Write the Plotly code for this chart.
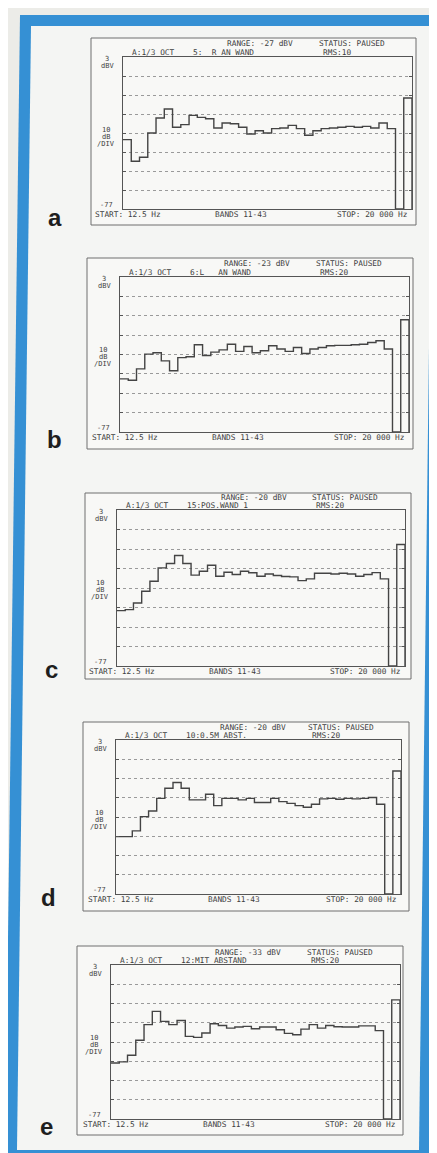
import plotly.graph_objects as go

# ---------------- data ----------------
panel_letters = ["a", "b", "c", "d", "e"]
range_labels = ["RANGE: -27 dBV", "RANGE: -23 dBV", "RANGE: -20 dBV", "RANGE: -20 dBV", "RANGE: -33 dBV"]
header_labels = [
    "A:1/3 OCT    5:  R AN WAND",
    "A:1/3 OCT    6:L   AN WAND",
    "A:1/3 OCT    15:POS.WAND 1",
    "A:1/3 OCT    10:0.5M ABST.",
    "A:1/3 OCT    12:MIT ABSTAND",
]
rms_labels = ["RMS:10", "RMS:20", "RMS:20", "RMS:20", "RMS:20"]

bands_a = [-40.5, -51.9, -49.8, -37.0, -29.1, -24.4, -34.0, -32.6, -27.7, -28.8, -29.5,
           -34.4, -31.7, -32.1, -34.0, -37.5, -35.8, -37.0, -34.7, -34.4, -33.0, -34.7,
           -38.2, -35.8, -34.7, -34.4, -34.0, -33.5, -34.0, -33.5, -34.4, -31.7, -34.7]
bands_b = [-49.6, -50.3, -44.4, -36.8, -36.1, -40.3, -45.4, -38.6, -38.2, -32.0, -37.5,
           -35.8, -34.6, -31.7, -35.4, -32.9, -36.1, -35.1, -32.5, -34.2, -35.4, -33.4,
           -36.5, -34.2, -33.4, -32.5, -32.3, -32.3, -32.0, -31.7, -30.8, -29.9, -34.2]
bands_c = [-48.6, -48.1, -44.7, -38.7, -33.5, -26.7, -24.4, -20.3, -24.4, -30.4, -28.4,
           -25.3, -31.0, -28.9, -30.1, -28.4, -29.2, -31.0, -29.8, -30.6, -31.1, -31.3,
           -33.2, -32.3, -29.4, -29.4, -29.8, -29.4, -29.8, -31.0, -30.1, -29.1, -32.3]
bands_d = [-47.2, -47.2, -44.2, -36.8, -33.9, -27.3, -22.1, -19.1, -22.1, -28.1, -28.1,
           -25.2, -31.1, -27.3, -27.3, -28.1, -27.3, -29.5, -29.5, -27.3, -29.0, -29.9,
           -31.1, -31.9, -30.4, -27.6, -27.3, -27.8, -27.3, -27.6, -27.3, -26.9, -30.4]
bands_e = [-47.9, -47.3, -43.9, -36.1, -28.0, -21.1, -26.3, -28.0, -25.8, -34.1, -34.6,
           -32.3, -27.5, -28.4, -29.8, -29.2, -28.9, -30.1, -29.2, -29.2, -30.6, -32.5,
           -33.2, -30.3, -28.0, -29.8, -28.4, -29.1, -29.2, -29.2, -28.6, -28.6, -31.1]
overall_levels = [-18.6, -19.1, -14.7, -13.1, -15.1]
band_series = [bands_a, bands_b, bands_c, bands_d, bands_e]

y_top, y_bottom = 3, -77
grid_levels = [-67, -57, -47, -37, -27, -17, -7]

# ---------------- geometry (pixels) ----------------
W, H = 437, 1153
def px(x): return x / W
def py(y): return 1 - y / H

outer_boxes = [(83, 30, 408, 217), (79, 250, 405, 441), (77, 485, 403, 671),
               (75, 714, 401, 903), (69, 938, 395, 1127)]
inner_boxes = [(115, 49, 404, 201), (112, 269, 401, 424), (109, 502, 397, 658),
               (108, 732, 393, 886), (103, 957, 392, 1111)]
letter_pos = [(47, 210), (46, 431), (43, 661), (40, 889), (38, 1118)]

MONO = "DejaVu Sans Mono"
TXT = "#3f3f3f"
LINE = "#555555"

fig = go.Figure()
shapes = []
annotations = []

def poly(points):
    return "M " + " L ".join(f"{px(x):.5f},{py(y):.5f}" for x, y in points) + " Z"

# blue frame (slightly rotated scan)
shapes.append(dict(type="path", xref="paper", yref="paper", layer="below",
                   path=poly([(12, 7), (433, 7), (421, 1160), (-3, 1160)]),
                   fillcolor="#3590d4", line=dict(width=0)))
shapes.append(dict(type="path", xref="paper", yref="paper", layer="below",
                   path=poly([(23, 18), (425, 18), (411, 1142), (9, 1142)]),
                   fillcolor="#f4f5f3", line=dict(width=0)))

layout_axes = {}
for i in range(5):
    ox0, oy0, ox1, oy1 = outer_boxes[i]
    shapes.append(dict(type="rect", xref="paper", yref="paper", layer="below",
                       x0=px(ox0), x1=px(ox1), y0=py(oy1), y1=py(oy0),
                       fillcolor="#f8f8f6", line=dict(color="#6e6e6e", width=1)))
    L, T, R, B = inner_boxes[i]
    sfx = "" if i == 0 else str(i + 1)
    xa, ya = "x" + sfx, "y" + sfx

    vals = band_series[i]
    xs = list(range(len(vals))) + [33, 34, 35, 35]
    ys = list(vals) + [y_bottom, overall_levels[i], overall_levels[i], y_bottom]
    fig.add_trace(go.Scatter(x=xs, y=ys, mode="lines", line_shape="hv",
                             line=dict(color="#444444", width=1.4),
                             xaxis=xa, yaxis=ya, showlegend=False, hoverinfo="skip"))

    layout_axes["xaxis" + sfx] = dict(domain=[px(L), px(R)], range=[0, 35], anchor=ya,
                                      showgrid=False, zeroline=False, showticklabels=False,
                                      ticks="", showline=True, mirror=True,
                                      linecolor=LINE, linewidth=1, fixedrange=True)
    layout_axes["yaxis" + sfx] = dict(domain=[py(B), py(T)], range=[y_bottom, y_top], anchor=xa,
                                      tickvals=grid_levels, showticklabels=False,
                                      ticks="inside", ticklen=3, tickcolor=LINE,
                                      showgrid=True, gridcolor="#9a9a9a", griddash="dot",
                                      gridwidth=1, zeroline=False, showline=True,
                                      mirror="ticks", linecolor=LINE, linewidth=1,
                                      fixedrange=True)

    def txt(x, y, s, anchor="left", size=7.8):
        annotations.append(dict(xref="paper", yref="paper", x=px(x), y=py(y), text=s,
                                showarrow=False, xanchor=anchor, yanchor="middle",
                                font=dict(family=MONO, size=size, color=TXT)))

    txt(L + 137, T - 13, range_labels[i], "center")
    txt(R - 60, T - 13, "STATUS: PAUSED", "center")
    txt(L + 7, T - 5, header_labels[i].replace(" ", "&nbsp;"), "left")
    txt(R - 91, T - 5, rms_labels[i], "left")
    txt(L - 16, T + 2, "3", "center", 7)
    txt(L - 16, T + 9, "dBV", "center", 7)
    txt(L - 17, T + 73, "10", "center", 7)
    txt(L - 17, T + 80, "dB", "center", 7)
    txt(L - 17, T + 87, "/DIV", "center", 7)
    txt(L - 17, B - 4, "-77", "center", 7)
    txt(L - 30, B + 5, "START: 12.5 Hz", "left")
    txt(L + 90, B + 5, "BANDS 11-43", "left")
    txt(R - 3, B + 5, "STOP: 20 000 Hz", "right")

    lx, ly = letter_pos[i]
    annotations.append(dict(xref="paper", yref="paper", x=px(lx), y=py(ly), text="<b>" + panel_letters[i] + "</b>",
                            showarrow=False, xanchor="center", yanchor="middle",
                            font=dict(family="Liberation Sans", size=24, color="#1e1e1e")))

fig.update_layout(width=W, height=H, margin=dict(l=0, r=0, t=0, b=0),
                  paper_bgcolor="#ecece8", plot_bgcolor="rgba(0,0,0,0)",
                  shapes=shapes, annotations=annotations, **layout_axes)

fig.write_html("out.html")
